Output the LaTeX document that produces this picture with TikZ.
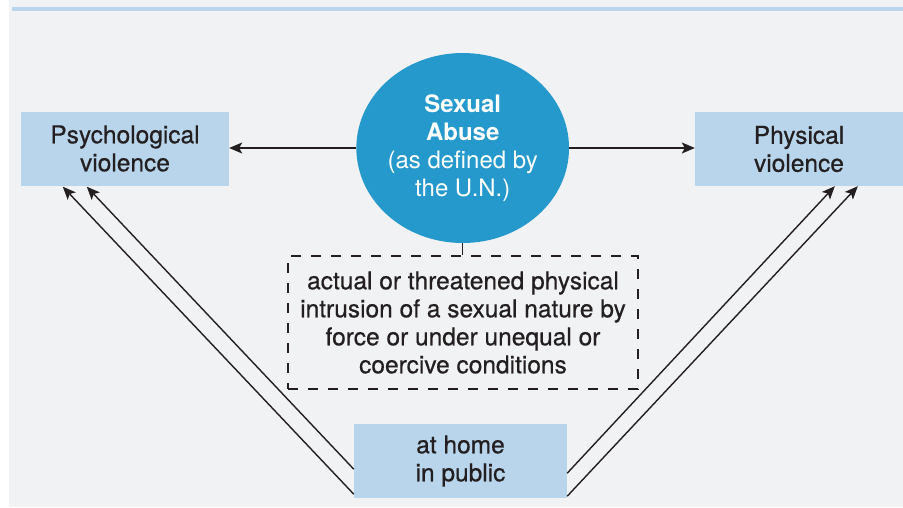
\documentclass[tikz,border=0pt]{standalone}
\usepackage{fontspec}
\setmainfont{TeX Gyre Heros}
\newfontfamily\medium[FakeBold=0.6]{TeX Gyre Heros}
\usetikzlibrary{arrows.meta,shapes.geometric}

\definecolor{paper}{HTML}{F1F2F4}
\definecolor{rule}{HTML}{BBD5EC}
\definecolor{boxblue}{HTML}{B9D5EB}
\definecolor{discblue}{HTML}{2699CC}
\definecolor{ink}{HTML}{231F20}

\tikzset{
  label box/.style={fill=boxblue, text=ink, inner sep=0pt, align=center,
    minimum width=#1, minimum height=74pt, font=\medium\fontsize{24.5}{28}\selectfont},
  label box/.default=208pt,
  link/.style={draw=ink, line width=1.4pt, -{Stealth[length=13pt,width=11pt,inset=3pt]}}
}

\begin{document}
\begin{tikzpicture}[x=1pt, y=-1pt]

\useasboundingbox (0,0) rectangle (903,507);
\fill[white] (0,0) rectangle (903,507);
\fill[paper] (9,0) rectangle (903,507);
\fill[rule] (12,6.7) rectangle (903,11);

\node (psych) at (125,148.5)[label box] {Psychological\\violence};
\node (phys) at (799,149)[label box] {Physical\\violence};
\node (abuse) at (462.7,148)[ellipse, fill=discblue, text=white, inner sep=0pt,
  minimum width=200pt, minimum height=190pt, align=center,
  font=\fontsize{24}{28}\selectfont]
  {\textbf{Sexual}\\\textbf{Abuse}\\(as defined by\\the U.N.)};
\node (defn) at (463,322.5)[draw=ink, line width=1.3pt, dash pattern=on 10pt off 10pt,
  minimum width=350pt, minimum height=133pt, inner sep=0pt, align=center, text=ink,
  font=\medium\fontsize{24.5}{28}\selectfont]
  {actual or threatened physical\\intrusion of a sexual nature by\\force or under unequal or\\coercive conditions};
\node (place) at (460.5,461)[label box=213pt] {at home\\in public};

\draw[link] (abuse.west) -- (abuse.west -| psych.east);
\draw[link] (abuse.east) -- (abuse.east -| phys.west);
\draw[ink, line width=1.3pt] (abuse.south) -- (abuse.south |- defn.north);

\draw[link] ([yshift=29pt]place.south west) -- ([xshift=66pt,yshift=-1pt]psych.south west);
\draw[link] ([yshift=4pt]place.south west) -- ([xshift=42pt,yshift=-1pt]psych.south west);
\draw[link] ([yshift=25pt]place.south east) -- ([xshift=140pt]phys.south west);
\draw[link] ([yshift=2pt]place.south east) -- ([xshift=163pt]phys.south west);

\end{tikzpicture}
\end{document}
